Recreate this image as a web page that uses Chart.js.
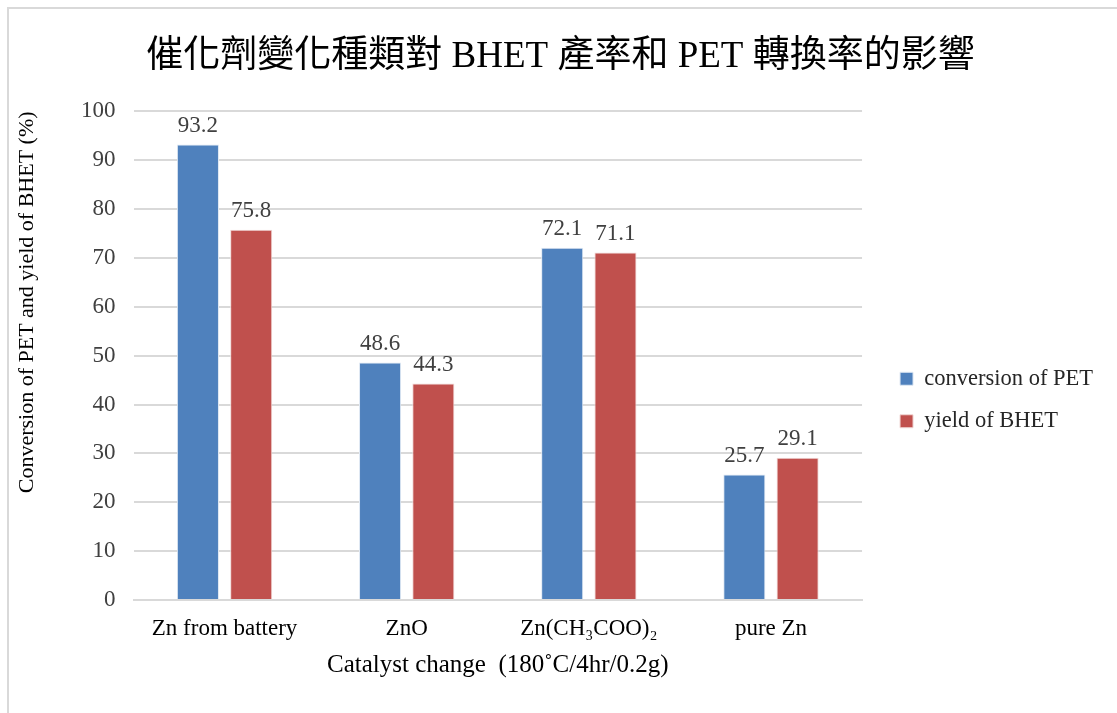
<!DOCTYPE html>
<html>
<head>
<meta charset="utf-8">
<script src="https://cdn.jsdelivr.net/npm/chart.js@4.4.0/dist/chart.umd.min.js"></script>
<style>
  html, body { margin: 0; padding: 0; background: #fff; }
  #wrap { position: relative; width: 1117px; height: 713px; overflow: hidden; }
  #frame { position: absolute; left: 7px; top: 7px; width: 1200px; height: 800px; border: 2px solid #d9d9d9; box-sizing: border-box; }
  #c { position: absolute; left: 0; top: 0; }
</style>
</head>
<body>
<div id="wrap">
  <div id="frame"></div>
  <canvas id="c" width="1117" height="713"></canvas>
</div>
<script>
const categories = ["Zn from battery", "ZnO", "Zn(CH\u2083COO)\u2082", "pure Zn"];
const conversionPET = [93.2, 48.6, 72.1, 25.7];
const yieldBHET = [75.8, 44.3, 71.1, 29.1];
const yTicks = [0, 10, 20, 30, 40, 50, 60, 70, 80, 90, 100];

const SERIF = "'Liberation Serif', 'Times New Roman', 'Noto Sans CJK TC', serif";

const valueLabels = {
  id: 'valueLabels',
  afterDatasetsDraw(chart) {
    const ctx = chart.ctx;
    ctx.save();
    ctx.font = "23px " + SERIF;
    ctx.fillStyle = "#404040";
    ctx.textAlign = "center";
    ctx.textBaseline = "bottom";
    chart.data.datasets.forEach((ds, i) => {
      const meta = chart.getDatasetMeta(i);
      meta.data.forEach((bar, j) => {
        ctx.fillText(ds.data[j].toFixed(1), bar.x, bar.y - 7);
      });
    });
    ctx.restore();
  }
};

// nudge legend and title blocks after layout (offsets only)
const nudgeBlocks = {
  id: 'nudgeBlocks',
  afterLayout(chart) {
    const lg = chart.legend;
    if (lg) { lg.left += 18; lg.right += 18; lg.top += 51; lg.bottom += 51; }
    const tb = chart.titleBlock;
    if (tb) { tb.left += 10; tb.right += 10; }
  }
};

new Chart(document.getElementById('c'), {
  type: 'bar',
  data: {
    labels: categories,
    datasets: [
      { label: 'conversion of PET', data: conversionPET, backgroundColor: '#4F81BD', borderColor: '#dfe8f3', borderWidth: 1 },
      { label: 'yield of BHET', data: yieldBHET, backgroundColor: '#C0504D', borderColor: '#f0d6d5', borderWidth: 1 }
    ]
  },
  options: {
    responsive: false,
    animation: false,
    categoryPercentage: 0.585,
    barPercentage: 0.79,
    layout: { padding: { left: 16, right: 32, top: 20, bottom: 35 } },
    plugins: {
      title: {
        display: true,
        text: '催化劑變化種類對 BHET 產率和 PET 轉換率的影響',
        color: '#000',
        font: { family: SERIF, size: 37, weight: 'normal' },
        padding: { top: 15, bottom: 32 }
      },
      legend: {
        position: 'right',
        align: 'center',
        labels: {
          color: '#262626',
          font: { family: SERIF, size: 22.5 },
          boxWidth: 13,
          boxHeight: 13,
          padding: 20
        }
      },
      tooltip: { enabled: false }
    },
    scales: {
      x: {
        grid: { display: false, drawTicks: false },
        border: { color: '#d9d9d9', width: 2 },
        ticks: { color: '#000', font: { family: SERIF, size: 23, lineHeight: 1 }, padding: 17 },
        title: {
          display: true,
          text: 'Catalyst change  (180˚C/4hr/0.2g)',
          color: '#000',
          font: { family: SERIF, size: 25, lineHeight: 1 },
          padding: { top: -4, bottom: 0 }
        }
      },
      y: {
        min: 0, max: 100,
        afterBuildTicks(axis) { axis.ticks = yTicks.map(v => ({ value: v })); },
        grid: { color: '#d9d9d9', lineWidth: 2, drawTicks: false },
        border: { display: false },
        ticks: { color: '#404040', font: { family: SERIF, size: 23 }, padding: 18 },
        title: {
          display: true,
          align: 'end',
          text: 'Conversion of PET and yield of BHET (%)',
          color: '#000',
          font: { family: SERIF, size: 22, lineHeight: 1 },
          padding: { top: 0, bottom: 25 }
        }
      }
    }
  },
  plugins: [valueLabels, nudgeBlocks]
});
</script>
</body>
</html>
